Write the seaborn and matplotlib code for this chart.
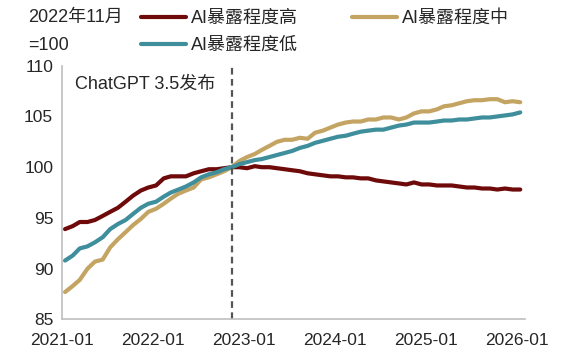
"""AI exposure employment index chart (2022-11 = 100)."""
import matplotlib
matplotlib.use("Agg")
import matplotlib.pyplot as plt
import matplotlib.dates as mdates
import numpy as np
import pandas as pd
import seaborn as sns

# monthly values, 2021-01 .. 2026-01
months = pd.date_range("2021-01-01", periods=61, freq="MS")

high = [93.9, 94.2, 94.6, 94.6, 94.8, 95.2, 95.6, 96.0, 96.6, 97.2,
        97.7, 98.0, 98.2, 98.9, 99.1, 99.1, 99.1, 99.4, 99.6, 99.8,
        99.8, 99.9, 100.0, 100.0, 99.9, 100.1, 100.0, 100.0, 99.9, 99.8,
        99.7, 99.6, 99.4, 99.3, 99.2, 99.1, 99.1, 99.0, 99.0, 98.9,
        98.9, 98.7, 98.6, 98.5, 98.4, 98.3, 98.5, 98.3, 98.3, 98.2,
        98.2, 98.2, 98.1, 98.0, 98.0, 97.9, 97.9, 97.8, 97.9, 97.8,
        97.8]
mid = [87.7, 88.3, 88.9, 90.0, 90.7, 90.9, 92.1, 92.9, 93.6, 94.3,
       94.9, 95.6, 95.9, 96.4, 96.9, 97.4, 97.7, 98.0, 98.8, 99.0,
       99.3, 99.6, 100.0, 100.6, 101.0, 101.3, 101.7, 102.1, 102.5, 102.7,
       102.7, 102.9, 102.8, 103.4, 103.6, 103.9, 104.2, 104.4, 104.5, 104.5,
       104.7, 104.7, 104.9, 104.9, 104.7, 104.9, 105.3, 105.5, 105.5, 105.7,
       106.0, 106.1, 106.3, 106.5, 106.6, 106.6, 106.7, 106.7, 106.4, 106.5,
       106.4]
low = [90.8, 91.3, 92.0, 92.2, 92.6, 93.1, 93.9, 94.4, 94.8, 95.4,
       96.0, 96.4, 96.6, 97.1, 97.5, 97.8, 98.1, 98.5, 99.0, 99.3,
       99.5, 99.8, 100.0, 100.3, 100.5, 100.7, 100.8, 101.0, 101.2, 101.4,
       101.6, 101.9, 102.1, 102.4, 102.6, 102.8, 103.0, 103.1, 103.3, 103.5,
       103.6, 103.7, 103.7, 103.9, 104.1, 104.2, 104.4, 104.4, 104.4, 104.5,
       104.6, 104.6, 104.7, 104.7, 104.8, 104.9, 104.9, 105.0, 105.1, 105.2,
       105.4]

series_names = ["AI暴露程度高", "AI暴露程度中", "AI暴露程度低"]
colors = {"AI暴露程度高": "#6E0A0A", "AI暴露程度中": "#C4A462", "AI暴露程度低": "#3E8E9C"}
release_date = pd.Timestamp("2022-11-15")
release_label = "ChatGPT 3.5发布"

sns.set_style("white")
plt.rcParams["font.family"] = ["Liberation Sans", "Noto Sans CJK SC"]
plt.rcParams["axes.unicode_minus"] = False

# points sit mid-month
dates = months + pd.Timedelta(days=14)
df = pd.DataFrame({"date": np.tile(dates, 3),
                   "value": high + mid + low,
                   "series": np.repeat(series_names, len(dates))})

fig = plt.figure(figsize=(5.7, 3.63), dpi=100)
ax = fig.add_axes([0.108, 0.12, 0.813, 0.699])

sns.lineplot(data=df, x="date", y="value", hue="series", hue_order=series_names,
             palette=colors, linewidth=3, ax=ax, legend=False)

ax.axvline(release_date, color="#555555", linestyle=(0, (3, 2)), linewidth=1.6)
ax.text(pd.Timestamp("2021-02-25"), 108.2, release_label, fontsize=13, va="center")

ax.set_ylim(85, 110)
ax.set_yticks([85, 90, 95, 100, 105, 110])
ax.set_xlim(pd.Timestamp("2021-01-01"), pd.Timestamp("2026-02-03"))
ax.set_xticks(pd.date_range("2021-01-01", "2026-01-01", freq="YS"))
ax.xaxis.set_major_formatter(mdates.DateFormatter("%Y-%m"))
ax.set_xlabel("")
ax.set_ylabel("")

for side in ["top", "right"]:
    ax.spines[side].set_visible(False)
for side in ["left", "bottom"]:
    ax.spines[side].set_color("#BFBFBF")
    ax.spines[side].set_linewidth(1.2)
ax.tick_params(axis="x", direction="in", length=4, color="#BFBFBF", labelsize=12.5, pad=10)
ax.tick_params(axis="y", direction="out", length=3, color="#BFBFBF", labelsize=12.5, pad=3)

# legend in header
handles = [plt.Line2D([], [], color=colors[n], linewidth=3) for n in series_names]
order = [0, 2, 1]
fig.legend([handles[i] for i in order], [series_names[i] for i in order],
           ncol=2, loc="center left", bbox_to_anchor=(0.235, 0.912), frameon=False,
           fontsize=13, handlelength=2.5, handletextpad=0.25, columnspacing=3.0,
           labelspacing=0.55, borderaxespad=0)
fig.text(0.049, 0.953, "2022年11月", fontsize=13, va="center")
fig.text(0.049, 0.876, "=100", fontsize=13, va="center")

fig.savefig("out.png", dpi=100)
